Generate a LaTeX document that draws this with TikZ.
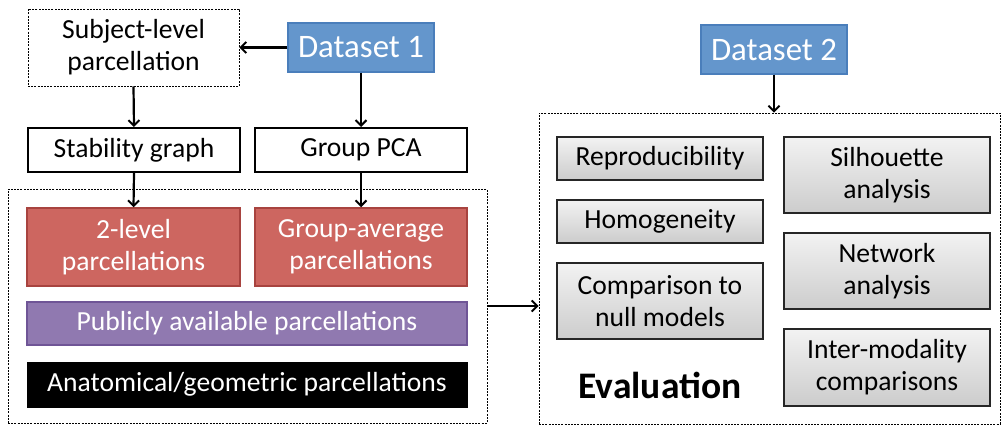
\documentclass[tikz,border=0pt]{standalone}
\usepackage{fontspec}
\setmainfont{Carlito}
\usetikzlibrary{arrows.meta}
\definecolor{dsblue}{HTML}{6496CC}
\definecolor{dsblueb}{HTML}{4A7EBB}
\definecolor{pred}{HTML}{CD6660}
\definecolor{predb}{HTML}{A8433F}
\definecolor{ppur}{HTML}{9079B0}
\definecolor{ppurb}{HTML}{6F5596}
\tikzset{
  txt/.style={font=\fontsize{27.6}{32}\selectfont, align=center, inner sep=0pt},
  dashbox/.style={draw=black, line width=0.8pt, dash pattern=on 2pt off 1.2pt},
  plainbox/.style={txt, draw=black, line width=2pt, fill=white},
  databox/.style={txt, font=\fontsize{32.8}{36}\selectfont, text=white, fill=dsblue, draw=dsblueb, line width=1.5pt},
  redbox/.style={txt, text=white, fill=pred, draw=predb, line width=1.5pt},
  purbox/.style={txt, text=white, fill=ppur, draw=ppurb, line width=1.5pt},
  blackbox/.style={txt, text=white, fill=black, draw=black, line width=1pt},
  graybox/.style={txt, draw=black!85, line width=1.5pt, top color=black!5, bottom color=black!20},
  arr/.style={line width=2.2pt, -{Straight Barb[length=5.5pt,width=11pt,line width=2pt]}},
}
\begin{document}
\begin{tikzpicture}[x=1pt,y=-1pt]
\useasboundingbox (0,0) rectangle (1001,425);
% containers
\node[dashbox, minimum width=479, minimum height=234] (leftc) at (247.5,306) {};
\node[dashbox, minimum width=461, minimum height=311] (evalc) at (769.5,268.5) {};
% top left
\node[txt, dashbox, minimum width=211, minimum height=77] (sub) at (133.5,47.5) {Subject-level\\parcellation};
\node[databox, minimum width=146, minimum height=49] (d1) at (361,47.5) {Dataset 1};
\node[plainbox, minimum width=212, minimum height=44] (stab) at (134,150) {Stability graph};
\node[plainbox, minimum width=212, minimum height=44] (pca) at (361,150) {Group PCA};
\node[redbox, minimum width=213, minimum height=78] (lvl2) at (133.5,247) {2-level\\parcellations};
\node[redbox, minimum width=212, minimum height=78] (gavg) at (361,247) {Group-average\\parcellations};
\node[purbox, minimum width=440, minimum height=43] (pub) at (247,323.5) {Publicly available parcellations};
\node[blackbox, minimum width=440, minimum height=45] (anat) at (247,384.5) {Anatomical/geometric parcellations};
% right
\node[databox, minimum width=146, minimum height=49] (d2) at (774,49.5) {Dataset 2};
\node[graybox, minimum width=206, minimum height=43] (rep) at (660,158.5) {Reproducibility};
\node[graybox, minimum width=206, minimum height=43] (hom) at (660,221.5) {Homogeneity};
\node[graybox, minimum width=206, minimum height=76] (comp) at (660,301) {Comparison to\\null models};
\node[txt, font=\fontsize{37.5}{40}\selectfont\bfseries] (evt) at (660,385) {Evaluation};
\node[graybox, minimum width=206, minimum height=76] (sil) at (887,175) {Silhouette\\analysis};
\node[graybox, minimum width=206, minimum height=76] (net) at (887,271) {Network\\analysis};
\node[graybox, minimum width=206, minimum height=77] (inter) at (887,367.5) {Inter-modality\\comparisons};
% arrows
\draw[arr] (d1.west) -- (sub.east);
\draw[arr] (sub.south) -- (stab.north);
\draw[arr] (d1.south) -- (pca.north);
\draw[arr] (stab.south) -- (lvl2.north);
\draw[arr] (pca.south) -- (gavg.north);
\draw[arr] (leftc.east) -- (leftc.east -| evalc.west);
\draw[arr] (d2.south) -- (d2.south |- evalc.north);
\end{tikzpicture}
\end{document}
